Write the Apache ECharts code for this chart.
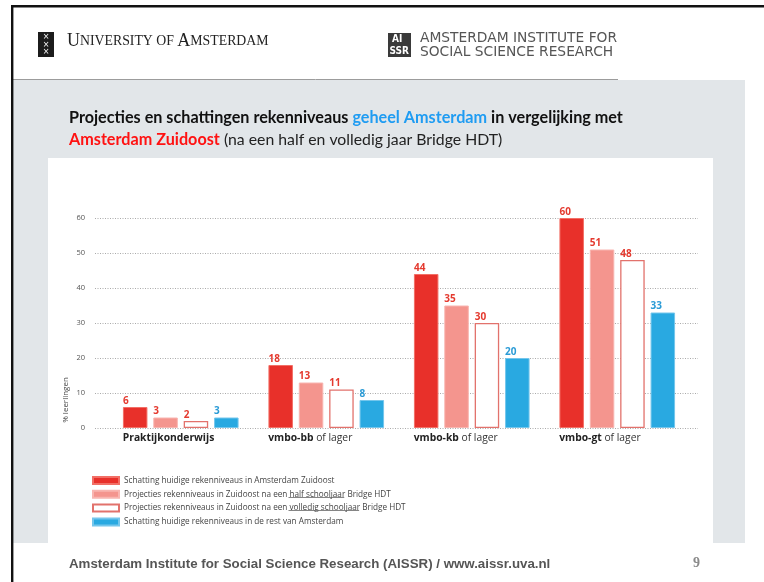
<!DOCTYPE html>
<html><head><meta charset="utf-8">
<script src="https://cdn.jsdelivr.net/npm/echarts@6/dist/echarts.min.js"></script>
<style>html,body{margin:0;padding:0;background:#fff}#c{width:764px;height:582px}</style>
</head><body><div id="c"></div>
<script>
// ---------- data ----------
const categories = ['Praktijkonderwijs', 'vmbo-bb', 'vmbo-kb', 'vmbo-gt'];
const categorySuffix = ['', ' of lager', ' of lager', ' of lager'];
const seriesNames = [
  'Schatting huidige rekenniveaus in Amsterdam Zuidoost',
  'Projecties rekenniveaus in Zuidoost na een half schooljaar Bridge HDT',
  'Projecties rekenniveaus in Zuidoost na een volledig schooljaar Bridge HDT',
  'Schatting huidige rekenniveaus in de rest van Amsterdam'
];
const zuidoostNu = [6, 18, 44, 60];
const zuidoostHalfJaar = [3, 13, 35, 51];
const zuidoostVolledigJaar = [2, 11, 30, 48];
const restAmsterdam = [3, 8, 20, 33];
const yMin = 0, yMax = 60, yStep = 10;
const yAxisName = '% leerlingen';

// ---------- style ----------
const FONT = '"Open Sans", sans-serif';
const RED = '#e8302a', PINK = '#f4958e', BLUE = '#29a9e1';
const LBL_RED = '#e43a2f', LBL_BLUE = '#2a9bd6';

const chart = echarts.init(document.getElementById('c'));

function barLabel(color) {
  return { show: true, position: [0, -11], color: color, fontFamily: FONT, fontWeight: 'bold', fontSize: 10 };
}
const common = { type: 'bar', xAxisIndex: 1, yAxisIndex: 1, barWidth: 24.5, barGap: '24%' };

const LEG_LEFT = 92, LEG_TOP = 476, LEG_FS = 8.2, LEG_GAP = 4.8;
const legTextX = LEG_LEFT + 26 + 5;
function tw(t) {
  const el = new echarts.graphic.Text({ style: { text: t, fontSize: LEG_FS, fontFamily: FONT } });
  return el.getBoundingRect().width;
}
function rowH() {
  const el = new echarts.graphic.Text({ style: { text: 'Schatting', fontSize: LEG_FS, fontFamily: FONT } });
  return Math.max(7, el.getBoundingRect().height);
}
function underline(row, prefix, word) {
  const h = rowH();
  const x0 = legTextX + tw(prefix);
  const y = Math.round(LEG_TOP + row * (h + LEG_GAP) + h / 2 + 4) + 0.5;
  return { type: 'line', z: 100, shape: { x1: x0, y1: y, x2: x0 + tw(word), y2: y }, style: { stroke: '#666', lineWidth: 0.8 } };
}

const HDR = '"DejaVu Sans", sans-serif';
function buildGraphic() {
  return [
    // slide frame & backgrounds
    { type: 'rect', z: -10, shape: { x: 13, y: 80, width: 732, height: 463 }, style: { fill: '#e2e6e9' } },
    { type: 'rect', z: -9, shape: { x: 48, y: 158, width: 665, height: 385 }, style: { fill: '#ffffff' } },
    { type: 'line', z: -8, shape: { x1: 13, y1: 79.5, x2: 618, y2: 79.5 }, style: { stroke: '#9c9c9c', lineWidth: 1 } },
    { type: 'rect', z: 50, shape: { x: 11, y: 5, width: 753, height: 2.4 }, style: { fill: '#111' } },
    { type: 'rect', z: 50, shape: { x: 11, y: 5, width: 2.4, height: 577 }, style: { fill: '#111' } },
    // UvA logo
    { type: 'rect', z: 50, shape: { x: 38, y: 32, width: 16, height: 25 }, style: { fill: '#1c1c1c' } },
    { type: 'text', z: 51, x: 46, y: 37, style: { text: '×', fontSize: 8, fill: '#fff', align: 'center', verticalAlign: 'middle', fontFamily: 'DejaVu Sans' } },
    { type: 'text', z: 51, x: 46, y: 44.5, style: { text: '×', fontSize: 8, fill: '#fff', align: 'center', verticalAlign: 'middle', fontFamily: 'DejaVu Sans' } },
    { type: 'text', z: 51, x: 46, y: 52, style: { text: '×', fontSize: 8, fill: '#fff', align: 'center', verticalAlign: 'middle', fontFamily: 'DejaVu Sans' } },
    { type: 'text', z: 51, x: 67, y: 41, style: { text: '{b|U}{s|NIVERSITY OF }{b|A}{s|MSTERDAM}', verticalAlign: 'middle',
      rich: { b: { fontSize: 18, fontFamily: '"Liberation Serif", serif', fill: '#222' }, s: { fontSize: 13.8, fontFamily: '"Liberation Serif", serif', fill: '#222' } } } },
    // AISSR logo
    { type: 'rect', z: 50, shape: { x: 388, y: 33, width: 23, height: 24 }, style: { fill: '#3a3a3a' } },
    { type: 'text', z: 51, x: 392, y: 39.5, style: { text: 'AI', fontSize: 10, fontWeight: 'bold', fill: '#fff', verticalAlign: 'middle', fontFamily: '"DejaVu Sans Condensed", "Liberation Sans Narrow", sans-serif' } },
    { type: 'text', z: 51, x: 389.5, y: 51, style: { text: 'SSR', fontSize: 10, fontWeight: 'bold', fill: '#fff', verticalAlign: 'middle', fontFamily: '"DejaVu Sans Condensed", "Liberation Sans Narrow", sans-serif' } },
    { type: 'text', z: 51, x: 420, y: 38.5, style: { text: 'AMSTERDAM INSTITUTE FOR', fontSize: 13.8, fill: '#555', verticalAlign: 'middle', fontFamily: HDR } },
    { type: 'text', z: 51, x: 420, y: 52, style: { text: 'SOCIAL SCIENCE RESEARCH', fontSize: 13.8, fill: '#555', verticalAlign: 'middle', fontFamily: HDR } },
    // title
    { type: 'text', z: 51, x: 69, y: 118, style: { text: '{k|Projecties en schattingen rekenniveaus }{bl|geheel Amsterdam}{k| in vergelijking met}', verticalAlign: 'middle',
      rich: { k: { fontSize: 16.2, fontWeight: 'bold', fontFamily: 'Lato', fill: '#111' }, bl: { fontSize: 16.2, fontWeight: 'bold', fontFamily: 'Lato', fill: '#1f9cf2' } } } },
    { type: 'text', z: 51, x: 69, y: 140, style: { text: '{r|Amsterdam Zuidoost}{n| (na een half en volledig jaar Bridge HDT)}', verticalAlign: 'middle',
      rich: { r: { fontSize: 16.2, fontWeight: 'bold', fontFamily: 'Lato', fill: '#ff1212' }, n: { fontSize: 15.8, fontFamily: 'Lato', fill: '#222' } } } },
    // y axis name
    { type: 'text', z: 51, x: 66, y: 400, rotation: Math.PI / 2, style: { text: yAxisName, fontSize: 8, fill: '#444', align: 'center', verticalAlign: 'middle', fontFamily: FONT } },
    // legend underlines
    underline(1, 'Projecties rekenniveaus in Zuidoost na een ', 'half schooljaar'),
    underline(2, 'Projecties rekenniveaus in Zuidoost na een ', 'volledig schooljaar'),
    // footer
    { type: 'text', z: 51, x: 69, y: 564, style: { text: 'Amsterdam Institute for Social Science Research (AISSR) / www.aissr.uva.nl', fontSize: 13.3, fontWeight: 'bold', fill: '#555', verticalAlign: 'middle', fontFamily: '"Liberation Sans", Arial, sans-serif' } },
    { type: 'text', z: 51, x: 693, y: 563, style: { text: '9', fontSize: 14, fontWeight: 'bold', fill: '#8a8a8a', verticalAlign: 'middle', fontFamily: '"Liberation Serif", serif' } }
  ];
}

const option = {
  backgroundColor: '#ffffff',
  animation: false,
  textStyle: { fontFamily: FONT },
  grid: [
    { left: 95, top: 218, width: 603, height: 210 },
    { left: 108, top: 218, width: 582, height: 210 },
    { left: 50, top: 218, width: 582, height: 210 }
  ],
  xAxis: [
    { gridIndex: 0, type: 'category', data: categories, show: false },
    { gridIndex: 1, type: 'category', data: categories, axisLine: { show: false }, axisTick: { show: false }, axisLabel: { show: false } },
    { gridIndex: 2, type: 'category', data: categories, axisLine: { show: false }, axisTick: { show: false },
      axisLabel: { interval: 0, align: 'left', margin: 5,
        formatter: (v, i) => '{b|' + v + '}' + (categorySuffix[i] ? '{n|' + categorySuffix[i] + '}' : ''),
        rich: { b: { fontFamily: FONT, fontWeight: 'bold', fontSize: 10.3, color: '#222' },
                n: { fontFamily: FONT, fontSize: 10.3, color: '#333' } } } }
  ],
  yAxis: [
    { gridIndex: 0, type: 'value', min: yMin, max: yMax, interval: yStep,
      axisLine: { show: false }, axisTick: { show: false },
      axisLabel: { margin: 10, fontSize: 7.5, color: '#555', fontFamily: FONT },
      splitLine: { lineStyle: { type: [1, 1.5], color: '#aaaaaa', width: 1 } } },
    { gridIndex: 1, type: 'value', min: yMin, max: yMax, interval: yStep, show: false },
    { gridIndex: 2, type: 'value', min: yMin, max: yMax, interval: yStep, show: false }
  ],
  legend: {
    orient: 'vertical', left: LEG_LEFT, top: LEG_TOP, padding: 0, itemWidth: 26, itemHeight: 7, itemGap: LEG_GAP,
    icon: 'rect', data: seriesNames,
    textStyle: { fontSize: LEG_FS, color: '#444', fontFamily: FONT }
  },
  series: [
    Object.assign({}, common, { name: seriesNames[0], data: zuidoostNu,
      itemStyle: { color: RED, borderColor: '#f26f66', borderWidth: 1 }, label: barLabel(LBL_RED) }),
    Object.assign({}, common, { name: seriesNames[1], data: zuidoostHalfJaar,
      itemStyle: { color: PINK, borderColor: '#f8b5b0', borderWidth: 1 }, label: barLabel(LBL_RED) }),
    Object.assign({}, common, { name: seriesNames[2], data: zuidoostVolledigJaar,
      itemStyle: { color: '#ffffff', borderColor: '#e2726c', borderWidth: 1.3 }, label: barLabel(LBL_RED) }),
    Object.assign({}, common, { name: seriesNames[3], data: restAmsterdam,
      itemStyle: { color: BLUE, borderColor: '#74c6ec', borderWidth: 1 }, label: barLabel(LBL_BLUE) })
  ],
  graphic: buildGraphic()
};
chart.setOption(option);
if (document.fonts && document.fonts.ready) {
  document.fonts.ready.then(() => chart.setOption({ graphic: buildGraphic() }));
}
</script>
</body></html>
